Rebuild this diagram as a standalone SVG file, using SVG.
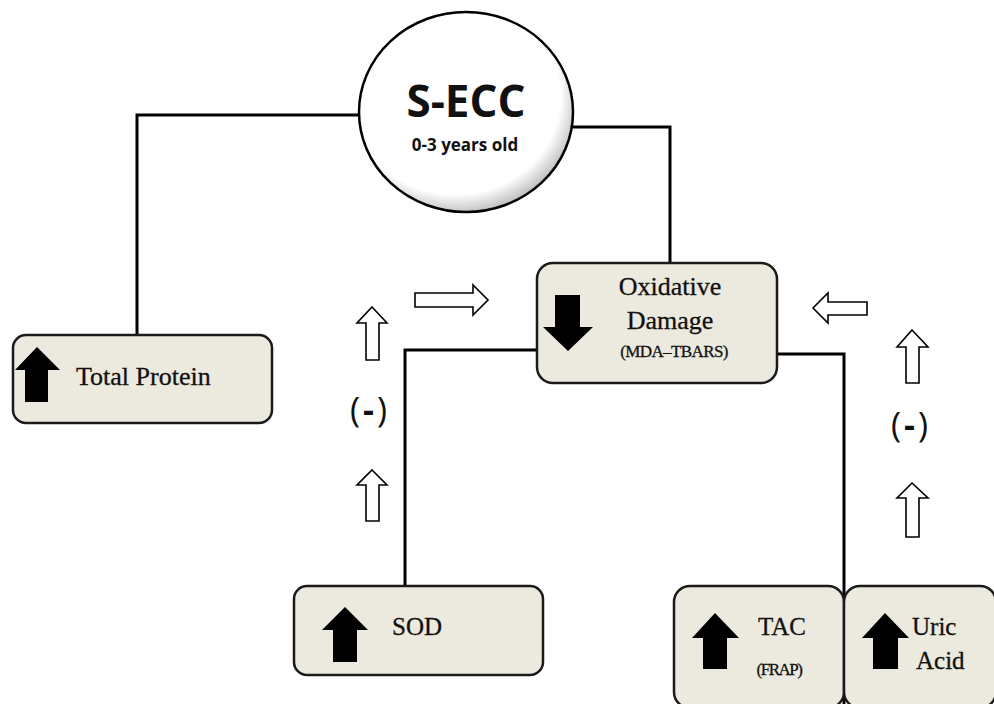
<svg xmlns="http://www.w3.org/2000/svg" width="994" height="704" viewBox="0 0 994 704">
<defs>
<radialGradient id="cg" cx="0.45" cy="0.42" r="0.6">
<stop offset="0.82" stop-color="#ffffff"/>
<stop offset="1" stop-color="#b8b8b8"/>
</radialGradient>
<style>
.box{fill:#ece9de;stroke:#1a1a1a;stroke-width:2.5}
.conn{fill:none;stroke:#000;stroke-width:3}
.sol{fill:#000}
.hol{fill:#fff;stroke:#000;stroke-width:1.6}
.ser{font-family:"Liberation Serif","Times New Roman",serif;fill:#111;stroke:#111;stroke-width:0.3}
.sans{font-family:"Open Sans","Liberation Sans",sans-serif;fill:#111}
</style>
</defs>
<rect width="994" height="704" fill="#fff"/>
<g id="connectors">
<polyline class="conn" points="360,115 137,115 137,336"/>
<polyline class="conn" points="571,127 670,127 670,264"/>
<polyline class="conn" points="538,350 405,350 405,587"/>
<polyline class="conn" points="776,354 844,354 844,704"/>
</g>
<g id="s-ecc">
<ellipse cx="466" cy="112" rx="107" ry="100" fill="url(#cg)" stroke="#000" stroke-width="2.5"/>
<text class="sans" x="466" y="117" text-anchor="middle" font-size="44" font-weight="bold">S-ECC</text>
<text class="sans" x="465" y="151" text-anchor="middle" font-size="17" font-weight="bold">0-3 years old</text>
</g>
<g id="total-protein">
<rect class="box" x="13" y="335" width="259" height="88" rx="13"/>
<polygon class="sol" points="15,370 37,347 60,370 48,370 48,402 25,402 25,370"/>
<text class="ser" x="76" y="385" font-size="26">Total Protein</text>
</g>
<g id="oxidative-damage">
<rect class="box" x="537" y="263" width="240" height="120" rx="16"/>
<polygon class="sol" points="555,295 580,295 580,327 593,327 568,351 543,327 555,327"/>
<text class="ser" x="670" y="295" text-anchor="middle" font-size="26">Oxidative</text>
<text class="ser" x="670" y="329" text-anchor="middle" font-size="26">Damage</text>
<text class="ser" x="674" y="357" text-anchor="middle" font-size="17" letter-spacing="-0.6">(MDA–TBARS)</text>
</g>
<g id="sod">
<rect class="box" x="294" y="586" width="249" height="89" rx="13"/>
<polygon class="sol" points="322,630 345,607 368,630 357,630 357,662 333,662 333,630"/>
<text class="ser" x="392" y="635" font-size="25">SOD</text>
</g>
<g id="tac">
<rect class="box" x="674" y="586" width="170" height="122" rx="16"/>
<polygon class="sol" points="692,638 715,613 739,638 727,638 727,669 703,669 703,638"/>
<text class="ser" x="782" y="635" text-anchor="middle" font-size="25">TAC</text>
<text class="ser" x="779" y="675" text-anchor="middle" font-size="17" letter-spacing="-1.5">(FRAP)</text>
</g>
<g id="uric-acid">
<rect class="box" x="844" y="586" width="152" height="122" rx="16"/>
<polygon class="sol" points="862,638 885,613 909,638 898,638 898,669 873,669 873,638"/>
<text class="ser" x="912" y="635" font-size="25">Uric</text>
<text class="ser" x="916" y="669" font-size="25">Acid</text>
</g>
<g id="left-effects">
<polygon class="hol" points="415,293 473,293 473,285 488,300 473,315 473,307 415,307"/>
<polygon class="hol" points="372,307 387,323 379,323 379,360 366,360 366,323 357,323"/>
<text class="sans" x="370" y="422" text-anchor="middle" font-size="34" letter-spacing="3">(<tspan font-weight="bold">-</tspan>)</text>
<polygon class="hol" points="372,470 387,485 379,485 379,521 366,521 366,485 357,485"/>
</g>
<g id="right-effects">
<polygon class="hol" points="867,302 828,302 828,293 813,308 828,323 828,315 867,315"/>
<polygon class="hol" points="912,330 928,347 919,347 919,383 906,383 906,347 897,347"/>
<text class="sans" x="911" y="437" text-anchor="middle" font-size="34" letter-spacing="3">(<tspan font-weight="bold">-</tspan>)</text>
<polygon class="hol" points="912,483 928,498 919,498 919,537 906,537 906,498 897,498"/>
</g>
</svg>
